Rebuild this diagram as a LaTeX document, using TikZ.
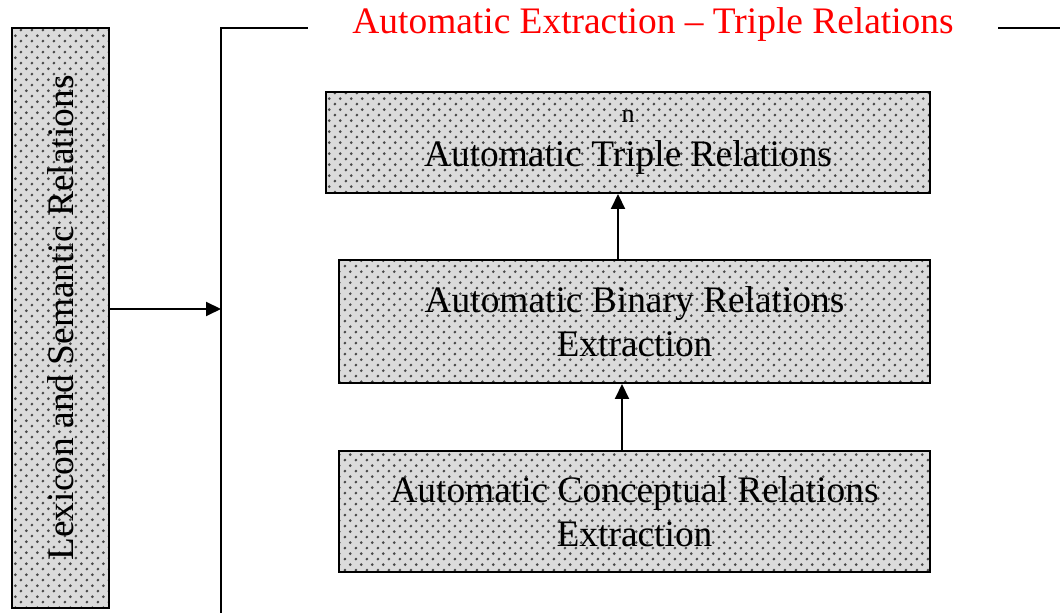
\documentclass[tikz,border=0pt]{standalone}
\usepackage{fontspec}
\setmainfont{Liberation Serif}
\usetikzlibrary{arrows.meta,patterns}

% staggered dot screen for the shaded boxes
\pgfdeclarepatternformonly{screen}{\pgfqpoint{-1pt}{-1pt}}{\pgfqpoint{4.4pt}{4.4pt}}{\pgfqpoint{5.4pt}{5.4pt}}{
  \pgfpathcircle{\pgfqpoint{0pt}{0pt}}{.75pt}
  \pgfpathcircle{\pgfqpoint{2.7pt}{2.7pt}}{.75pt}
  \pgfusepath{fill}
}

\tikzset{
  dotbox/.style={draw=black, line width=1pt, preaction={fill=black!14},
    pattern=screen, pattern color=black!72, align=center, inner sep=0pt,
    font=\fontsize{18.7}{22}\selectfont},
  arrow/.style={line width=1pt, -{Triangle[length=7.5pt,width=7pt]}},
}

\begin{document}
\begin{tikzpicture}[x=0.5pt,y=-0.5pt]
    \useasboundingbox (0,0) rectangle (1060,613);

    % Left column
    \node[dotbox, minimum width=48.5pt, minimum height=290pt] (lex) at (60.5,318)
        {\rotatebox{90}{Lexicon and Semantic Relations}};

    % Open frame round the extraction stages
    \draw[line width=1pt] (221,613) -- (221,28) -- (1060,28);
    \node[fill=white, text=red, inner xsep=22pt, inner ysep=3pt,
        font=\fontsize{18.7}{22}\selectfont] (title) at (653,25)
        {Automatic Extraction -- Triple Relations};
    \coordinate (frameW) at (221,309);

    % Stages
    \node[dotbox, minimum width=302pt, minimum height=50.5pt] (triple) at (628,142.5)
        {\fontsize{13}{14}\selectfont n\\[0pt] Automatic Triple Relations};
    \node[dotbox, minimum width=295.5pt, minimum height=61.5pt] (binary) at (634.5,321.5)
        {Automatic Binary Relations\\ Extraction};
    \node[dotbox, minimum width=295.5pt, minimum height=60.5pt] (concept) at (634.5,511.5)
        {Automatic Conceptual Relations\\ Extraction};

    % Arrows
    \draw[arrow] (lex.east |- frameW) -- (frameW);
    \draw[arrow] ([xshift=-8.25pt]binary.north) -- ([xshift=-8.25pt]binary.north |- triple.south);
    \draw[arrow] ([xshift=-6.25pt]concept.north) -- ([xshift=-6.25pt]concept.north |- binary.south);
\end{tikzpicture}
\end{document}
